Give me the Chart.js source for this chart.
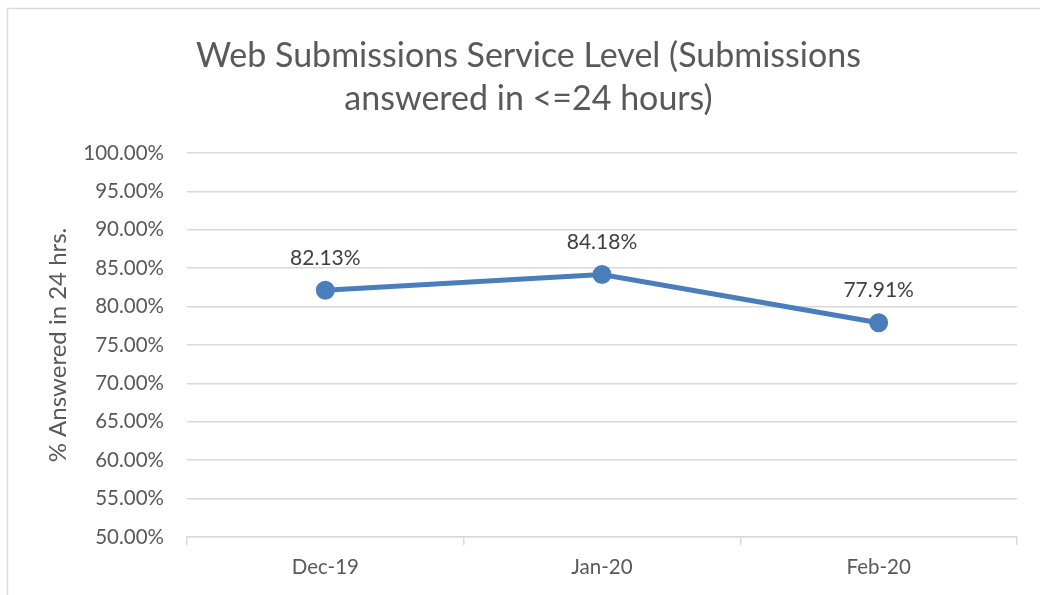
<!DOCTYPE html>
<html>
<head>
<meta charset="utf-8">
<script src="https://cdn.jsdelivr.net/npm/chart.js@4.4.1/dist/chart.umd.min.js"></script>
<style>
    html, body { margin: 0; padding: 0; background: #fff; }
    #wrap { width: 1040px; height: 595px; position: relative; }
</style>
</head>
<body>
<div id="wrap"><canvas id="chart" width="1040" height="595"></canvas></div>
<script>
const categories = ['Dec-19', 'Jan-20', 'Feb-20'];
const answeredPct = [82.13, 84.18, 77.91];
const yTicks = [50, 55, 60, 65, 70, 75, 80, 85, 90, 95, 100];

const FONT = 'Lato, "Open Sans", sans-serif';
const LINE_COLOR = '#4a7ebb';
const GRID_COLOR = '#d9d9d9';

// outer chart border, like the Excel chart frame
const framePlugin = {
    id: 'frame',
    beforeDraw(chart) {
        const ctx = chart.ctx;
        ctx.save();
        ctx.fillStyle = '#fff';
        ctx.fillRect(0, 0, chart.width, chart.height);
        ctx.strokeStyle = GRID_COLOR;
        ctx.lineWidth = 1.5;
        ctx.strokeRect(7.5, 8.5, chart.width + 20, chart.height + 20);
        ctx.restore();
    }
};

// value labels above each point
const labelPlugin = {
    id: 'pointLabels',
    afterDatasetsDraw(chart) {
        const ctx = chart.ctx;
        const meta = chart.getDatasetMeta(0);
        ctx.save();
        ctx.font = '21px ' + FONT;
        ctx.fillStyle = '#404040';
        ctx.textAlign = 'center';
        ctx.textBaseline = 'middle';
        meta.data.forEach((pt, i) => {
            ctx.fillText(answeredPct[i].toFixed(2) + '%', pt.x, pt.y - 32);
        });
        ctx.restore();
    }
};

new Chart(document.getElementById('chart'), {
    type: 'line',
    data: {
        labels: categories,
        datasets: [{
            data: answeredPct,
            borderColor: LINE_COLOR,
            backgroundColor: LINE_COLOR,
            borderWidth: 5,
            pointRadius: 7,
            pointBackgroundColor: LINE_COLOR,
            pointBorderColor: LINE_COLOR,
            tension: 0
        }]
    },
    options: {
        responsive: false,
        animation: false,
        layout: { padding: { left: 40, right: 23, top: 0, bottom: 0 } },
        plugins: {
            legend: { display: false },
            tooltip: { enabled: false },
            title: {
                display: true,
                text: ['Web Submissions Service Level (Submissions', 'answered in <=24 hours)'],
                color: '#595959',
                font: { family: FONT, size: 34, weight: 'normal', lineHeight: 1.28 },
                padding: { top: 34, bottom: 32 }
            }
        },
        scales: {
            x: {
                offset: true,
                grid: {
                    offset: true,
                    drawOnChartArea: false,
                    drawTicks: true,
                    tickLength: 8,
                    color: GRID_COLOR,
                    lineWidth: 1.5
                },
                border: { display: true, color: GRID_COLOR, width: 1.5 },
                ticks: {
                    color: '#595959',
                    font: { family: FONT, size: 20.5 },
                    padding: 10
                },
                afterFit(scale) { scale.height = 58; }
            },
            y: {
                min: 50,
                max: 100,
                afterBuildTicks(scale) {
                    scale.ticks = yTicks.map(v => ({ value: v }));
                },
                grid: {
                    color: GRID_COLOR,
                    lineWidth: 1.5,
                    drawTicks: false
                },
                border: { display: false },
                ticks: {
                    color: '#595959',
                    font: { family: FONT, size: 20.5 },
                    padding: 23,
                    callback: v => v.toFixed(2) + '%'
                },
                title: {
                    display: true,
                    text: '% Answered in 24 hrs.',
                    color: '#595959',
                    font: { family: FONT, size: 24, weight: 'normal' },
                    padding: { top: 4, bottom: 0 }
                },
                afterFit(scale) { scale.width = 147; }
            }
        }
    },
    plugins: [framePlugin, labelPlugin]
});
</script>
</body>
</html>
